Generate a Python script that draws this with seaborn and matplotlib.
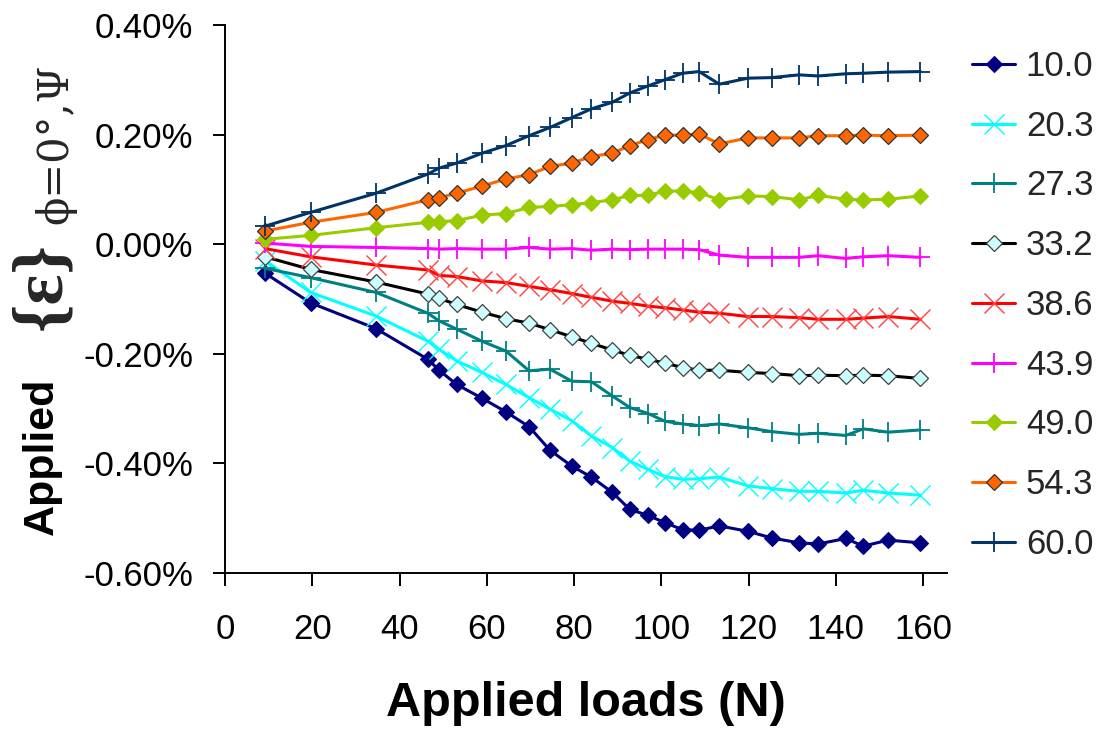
import matplotlib
matplotlib.use("Agg")
import matplotlib.pyplot as plt
import seaborn as sns
import pandas as pd
from matplotlib.ticker import FuncFormatter, FixedLocator

# ---------------- data (strain in %, loads in N) ----------------
loads = [9.2, 19.6, 34.6, 46.5, 49.1, 53.1, 58.9, 64.4, 69.7, 74.5, 79.5, 84.0,
         88.8, 92.8, 97.0, 100.8, 104.9, 108.7, 113.3, 119.9, 125.3, 131.6,
         136.0, 142.3, 146.3, 152.0, 159.4]

s_10_0 = [-0.053, -0.107, -0.154, -0.210, -0.230, -0.256, -0.281, -0.306, -0.333,
          -0.376, -0.405, -0.425, -0.453, -0.484, -0.495, -0.508, -0.521, -0.522,
          -0.514, -0.524, -0.536, -0.545, -0.547, -0.537, -0.551, -0.540, -0.545]
s_20_3 = [-0.030, -0.088, -0.131, -0.177, -0.192, -0.213, -0.234, -0.256, -0.280,
          -0.301, -0.322, -0.350, -0.371, -0.396, -0.411, -0.424, -0.429, -0.428,
          -0.425, -0.441, -0.446, -0.451, -0.451, -0.454, -0.449, -0.454, -0.458]
s_27_3 = [-0.044, -0.061, -0.088, -0.126, -0.140, -0.155, -0.177, -0.195, -0.231,
          -0.228, -0.250, -0.251, -0.277, -0.298, -0.309, -0.323, -0.328, -0.331,
          -0.328, -0.335, -0.342, -0.347, -0.345, -0.349, -0.337, -0.343, -0.339]
s_33_2 = [-0.023, -0.046, -0.069, -0.091, -0.099, -0.110, -0.124, -0.136, -0.144,
          -0.156, -0.169, -0.181, -0.193, -0.203, -0.210, -0.217, -0.225, -0.230,
          -0.230, -0.234, -0.236, -0.240, -0.239, -0.240, -0.239, -0.240, -0.245]
s_38_6 = [-0.008, -0.023, -0.038, -0.047, -0.057, -0.059, -0.067, -0.070, -0.077,
          -0.083, -0.090, -0.097, -0.104, -0.108, -0.113, -0.116, -0.120, -0.124,
          -0.126, -0.132, -0.132, -0.134, -0.137, -0.137, -0.135, -0.132, -0.137]
s_43_9 = [0.002, -0.004, -0.006, -0.008, -0.009, -0.008, -0.009, -0.009, -0.006,
          -0.009, -0.008, -0.011, -0.009, -0.010, -0.009, -0.009, -0.009, -0.010,
          -0.020, -0.024, -0.024, -0.024, -0.021, -0.026, -0.023, -0.021, -0.024]
s_49_0 = [0.009, 0.016, 0.030, 0.040, 0.041, 0.043, 0.053, 0.056, 0.067, 0.069,
          0.072, 0.076, 0.081, 0.089, 0.089, 0.097, 0.097, 0.094, 0.081, 0.088,
          0.087, 0.081, 0.089, 0.082, 0.081, 0.082, 0.088]
s_54_3 = [0.024, 0.040, 0.058, 0.081, 0.085, 0.093, 0.106, 0.119, 0.127, 0.142,
          0.148, 0.160, 0.166, 0.180, 0.191, 0.199, 0.199, 0.201, 0.183, 0.194,
          0.194, 0.194, 0.198, 0.198, 0.199, 0.198, 0.199]
s_60_0 = [0.033, 0.058, 0.093, 0.128, 0.139, 0.148, 0.166, 0.180, 0.198, 0.213,
          0.231, 0.247, 0.259, 0.276, 0.289, 0.300, 0.312, 0.315, 0.292, 0.303,
          0.304, 0.309, 0.307, 0.311, 0.312, 0.314, 0.315]

series_labels = ["10.0", "20.3", "27.3", "33.2", "38.6", "43.9", "49.0", "54.3", "60.0"]
series_values = [s_10_0, s_20_3, s_27_3, s_33_2, s_38_6, s_43_9, s_49_0, s_54_3, s_60_0]

x_ticks = [0, 20, 40, 60, 80, 100, 120, 140, 160]
y_ticks = [-0.6, -0.4, -0.2, 0.0, 0.2, 0.4]

# ---------------- styles ----------------
styles = {
    "10.0": dict(color="#000080", marker="D", ms=8.5, mfc="#000080", mec="#000080", mew=0.8),
    "20.3": dict(color="#00FFFF", marker="x", ms=15, mfc="#00FFFF", mec="#00FFFF", mew=1.0),
    "27.3": dict(color="#008080", marker="+", ms=14, mfc="#008080", mec="#008080", mew=1.3),
    "33.2": dict(color="#000000", marker="D", ms=8.5, mfc="#CCFFFF", mec="#404040", mew=0.9),
    "38.6": dict(color="#FF0000", marker="x", ms=15, mfc="#FF4040", mec="#FF4040", mew=1.0),
    "43.9": dict(color="#FF00FF", marker="+", ms=14, mfc="#FF00FF", mec="#FF00FF", mew=1.3),
    "49.0": dict(color="#99CC00", marker="D", ms=8.5, mfc="#99CC00", mec="#99CC00", mew=0.8),
    "54.3": dict(color="#FF6600", marker="D", ms=8.5, mfc="#FF6600", mec="#333333", mew=0.9),
    "60.0": dict(color="#003366", marker="+", ms=14, mfc="#003366", mec="#003366", mew=1.3),
}

sns.set_theme(style="ticks")
plt.rcParams["font.family"] = ["Liberation Sans", "DejaVu Sans"]
plt.rcParams["axes.unicode_minus"] = False

W, H = 1109, 734
fig = plt.figure(figsize=(W / 100, H / 100), dpi=100)
ax = fig.add_axes([225 / W, 1 - 573 / H, 722 / W, 548 / H])

for lab, vals in zip(series_labels, series_values):
    df = pd.DataFrame({"load": loads, "strain": vals})
    sns.lineplot(data=df, x="load", y="strain", ax=ax, label=lab, lw=2.2,
                 estimator=None, sort=False, **styles[lab])

ax.set_xlim(0, 165.5)
ax.set_ylim(-0.6, 0.4)
ax.xaxis.set_major_locator(FixedLocator(x_ticks))
ax.yaxis.set_major_locator(FixedLocator(y_ticks))
ax.yaxis.set_major_formatter(FuncFormatter(lambda v, p: f"{v:.2f}%"))
ax.xaxis.set_major_formatter(FuncFormatter(lambda v, p: f"{v:.0f}"))
ax.tick_params(axis="both", direction="out", length=9, width=1.4, colors="black",
               labelsize=25)
ax.tick_params(axis="x", pad=20)
ax.tick_params(axis="y", pad=14)
for side in ["top", "right"]:
    ax.spines[side].set_visible(False)
for side in ["left", "bottom"]:
    ax.spines[side].set_color("black")
    ax.spines[side].set_linewidth(1.4)
ax.set_facecolor("white")
ax.grid(False)

# x label
ax.set_xlabel("Applied loads (N)", fontsize=35, fontweight="bold", color="black")
ax.xaxis.set_label_coords((586 - 225) / 722, -(716 - 573) / 548)
ax.xaxis.label.set_va("baseline")

# y label (in parts)
ax.set_ylabel("Applied", fontsize=31, fontweight="bold", color="black",
              rotation=90, rotation_mode="anchor")
ax.yaxis.set_label_coords(-(225 - 53) / 722, (573 - 456) / 548)
ax.yaxis.label.set_va("baseline")
ax.yaxis.label.set_ha("center")
fig.text(43 / W, 1 - 286 / H, "{ε}", rotation=90, ha="center", va="center",
         fontsize=52, fontweight="bold", family=["Liberation Serif", "DejaVu Serif"])
fig.text(55 / W, 1 - 144 / H, "ϕ=0°,Ψ", rotation=90, ha="center", va="center",
         fontsize=30, family=["DejaVu Serif", "Liberation Serif"])

# legend
leg = ax.legend(loc="upper left", bbox_to_anchor=(972 / W, 1 - 50 / H),
                bbox_transform=fig.transFigure, frameon=False, fontsize=25,
                handlelength=1.25, handletextpad=0.3, labelspacing=0.77,
                borderpad=0, borderaxespad=0, numpoints=1)

fig.savefig("out.png", dpi=100, facecolor="white")
